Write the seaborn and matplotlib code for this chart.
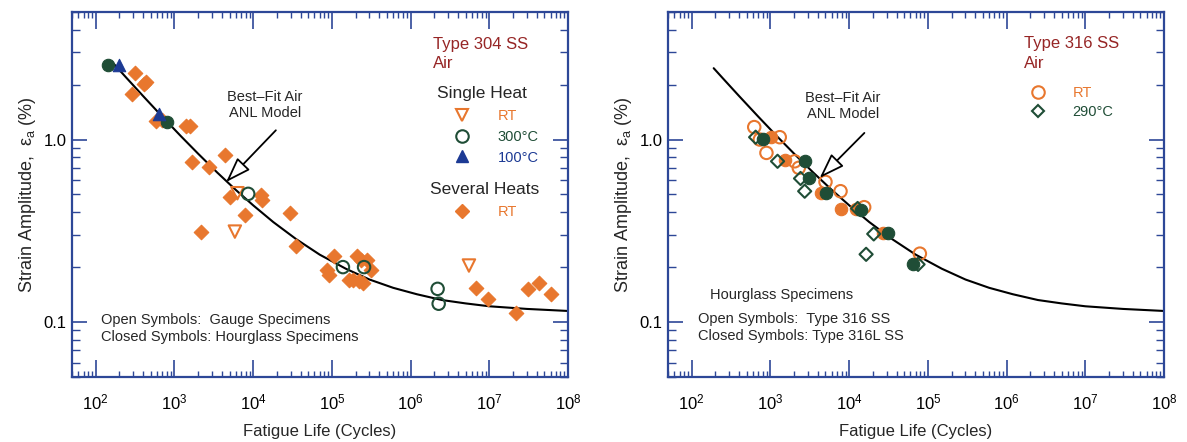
import numpy as np
import matplotlib
matplotlib.use("Agg")
import matplotlib.pyplot as plt
import seaborn as sns
from matplotlib.ticker import LogLocator, NullFormatter, FixedLocator
from matplotlib.lines import Line2D

# ---------------- data: left panel, Type 304 SS in air ----------------
ss304_several_rt_N = [311, 288, 405, 434, 581, 693, 1400, 1590, 1670, 2770, 4360, 2200,
                      5140, 7950, 12400, 13000, 34600, 29500, 107000, 87000, 91000, 211000,
                      233000, 283000, 310000, 167000, 183000, 222000, 245000, 6.8e6, 9.6e6,
                      2.2e7, 3.1e7, 4.3e7, 6.1e7]
ss304_several_rt_e = [2.31, 1.77, 2.02, 2.06, 1.27, 1.28, 1.18, 1.18, 0.755, 0.71, 0.82, 0.313,
                      0.486, 0.386, 0.497, 0.467, 0.26, 0.396, 0.231, 0.194, 0.182, 0.229,
                      0.22, 0.22, 0.194, 0.171, 0.171, 0.168, 0.164, 0.154, 0.133,
                      0.112, 0.152, 0.163, 0.142]
ss304_single_rt_N = [5850, 6300, 5.5e6]          # open triangles (gauge)
ss304_single_rt_e = [0.313, 0.508, 0.204]
ss304_300c_open_N = [8640, 138000, 256000, 2.2e6, 2.27e6]
ss304_300c_open_e = [0.504, 0.2, 0.2, 0.152, 0.126]
ss304_300c_closed_N = [142, 803]
ss304_300c_closed_e = [2.57, 1.25]
ss304_100c_N = [195, 630]
ss304_100c_e = [2.57, 1.38]

# best-fit ANL air curve
curve304_N = [160, 250, 400, 700, 1200, 2000, 3500, 6000, 10000, 18000, 35000, 70000,
              150000, 3e5, 6e5, 1.2e6, 2.5e6, 5e6, 1e7, 3e7, 1e8]
curve304_e = [2.671, 2.159, 1.730, 1.335, 1.046, 0.836, 0.659, 0.530, 0.436, 0.353, 0.285,
              0.234, 0.196, 0.171, 0.154, 0.142, 0.132, 0.1265, 0.122, 0.118, 0.115]

# ---------------- data: right panel, Type 316 SS in air ----------------
ss316_rt_open_N = [622, 733, 889, 1312, 2030, 2290, 5000, 7760, 15500, 79000]
ss316_rt_open_e = [1.17, 1.0, 0.845, 1.03, 0.76, 0.70, 0.586, 0.521, 0.426, 0.237]
ss316_rt_closed_N = [1030, 1520, 4340, 7940, 12300, 27000]
ss316_rt_closed_e = [1.03, 0.768, 0.51, 0.414, 0.414, 0.308]
ss316_290_closed_N = [807, 2720, 3055, 5130, 14100, 31000, 65000]
ss316_290_closed_e = [1.01, 0.76, 0.612, 0.51, 0.409, 0.308, 0.207]
ss316_290_open_N = [648, 1230, 2410, 2720, 12800, 20500, 16400, 75000]
ss316_290_open_e = [1.03, 0.76, 0.612, 0.521, 0.419, 0.304, 0.235, 0.207]

curve316_N = [190, 250, 400, 700, 1200, 2000, 3500, 6000, 10000, 18000, 35000, 70000,
              150000, 3e5, 6e5, 1.2e6, 2.5e6, 5e6, 1e7, 3e7, 1e8]
curve316_e = [2.46, 2.159, 1.730, 1.335, 1.046, 0.836, 0.659, 0.530, 0.436, 0.353, 0.285,
              0.234, 0.196, 0.171, 0.154, 0.142, 0.132, 0.1265, 0.122, 0.118, 0.115]

x_ticks = [1e2, 1e3, 1e4, 1e5, 1e6, 1e7, 1e8]
x_tick_labels = ["$10^{2}$", "$10^{3}$", "$10^{4}$", "$10^{5}$", "$10^{6}$", "$10^{7}$", "$10^{8}$"]
y_ticks = [0.1, 1.0]
y_tick_labels = ["0.1", "1.0"]

# ---------------- style ----------------
sns.set_theme(style="ticks")
plt.rcParams['font.family'] = ['Liberation Sans', 'DejaVu Sans']
plt.rcParams['mathtext.fontset'] = 'custom'
plt.rcParams['mathtext.rm'] = 'Liberation Sans'
plt.rcParams['mathtext.it'] = 'Liberation Sans:italic'
plt.rcParams['mathtext.default'] = 'regular'

BLUE_AX = "#2d4797"
ORANGE = "#e8772e"
GREEN = "#1f4d36"
BLUE = "#1c3a94"
DARKRED = "#962525"

fig = plt.figure(figsize=(11.87, 4.42), dpi=100)
ax1 = fig.add_axes([0.0607, 0.1471, 0.4179, 0.8258])
ax2 = fig.add_axes([0.5628, 0.1471, 0.4179, 0.8258])


def style_axes(ax):
    ax.set_xscale('log')
    ax.set_yscale('log')
    ax.set_xlim(50, 1e8)
    ax.set_ylim(0.05, 5)
    ax.set_xticks(x_ticks, labels=x_tick_labels)
    ax.set_yticks(y_ticks, labels=y_tick_labels)
    ax.yaxis.set_minor_locator(LogLocator(base=10, subs=np.arange(2, 10), numticks=12))
    ax.yaxis.set_minor_formatter(NullFormatter())
    ax.xaxis.set_minor_locator(LogLocator(base=10, subs=np.arange(2, 10), numticks=12))
    ax.xaxis.set_minor_formatter(NullFormatter())
    for s in ax.spines.values():
        s.set_visible(True)
        s.set_color(BLUE_AX)
        s.set_linewidth(1.6)
    ax.tick_params(which='both', direction='in', top=True, right=True, bottom=True,
                   left=True, color=BLUE_AX, labelcolor='black')
    ax.tick_params(axis='x', which='major', length=12, width=1.2, labelsize=12, pad=11)
    ax.tick_params(axis='x', which='minor', length=4.5, width=1.0)
    ax.tick_params(axis='y', which='major', length=11, width=1.2, labelsize=12, pad=4)
    ax.tick_params(axis='y', which='minor', length=5.5, width=1.0)
    ax.grid(False)
    ax.set_xlabel("Fatigue Life (Cycles)", fontsize=12)
    ax.set_ylabel("Strain Amplitude,  ε$_{a}$ (%)", fontsize=13)
    ax.xaxis.set_label_coords(0.5, -0.128)


def pts(ax, N, e, marker, color, filled, s, lw=1.5, z=3):
    if filled:
        sns.scatterplot(x=N, y=e, ax=ax, marker=marker, color=color, edgecolor=color,
                        s=s, linewidth=0.8, zorder=z, legend=False)
    else:
        sns.scatterplot(x=N, y=e, ax=ax, marker=marker, color=color, facecolor='none',
                        edgecolor=color, s=s, linewidth=lw, zorder=z, legend=False)


for ax in (ax1, ax2):
    style_axes(ax)

# ---------------- left panel ----------------
sns.lineplot(x=curve304_N, y=curve304_e, ax=ax1, color='black', linewidth=1.5,
             estimator=None, sort=False, legend=False, zorder=2)
pts(ax1, ss304_several_rt_N, ss304_several_rt_e, 'D', ORANGE, True, 55)
pts(ax1, ss304_single_rt_N, ss304_single_rt_e, 'v', ORANGE, False, 80)
pts(ax1, ss304_300c_open_N, ss304_300c_open_e, 'o', GREEN, False, 80)
pts(ax1, ss304_300c_closed_N, ss304_300c_closed_e, 'o', GREEN, True, 80)
pts(ax1, ss304_100c_N, ss304_100c_e, '^', BLUE, True, 80)

ax1.annotate("", xy=(4530, 0.585), xytext=(19400, 1.124),
             arrowprops=dict(arrowstyle='-|>,head_length=1.3,head_width=0.45',
                             fc='white', ec='black', lw=1.3, shrinkA=0, shrinkB=0))
ax1.text(0.389, 0.768, "Best–Fit Air", transform=ax1.transAxes, ha='center', va='center', fontsize=10.5)
ax1.text(0.389, 0.723, "ANL Model", transform=ax1.transAxes, ha='center', va='center', fontsize=10.5)
ax1.text(0.728, 0.9096, "Type 304 SS", transform=ax1.transAxes, ha='left', va='center',
         fontsize=12, color=DARKRED)
ax1.text(0.728, 0.860, "Air", transform=ax1.transAxes, ha='left', va='center',
         fontsize=12, color=DARKRED)
ax1.text(0.7353, 0.778, "Single Heat", transform=ax1.transAxes, ha='left', va='center', fontsize=12.5)
ax1.text(0.7218, 0.5123, "Several Heats", transform=ax1.transAxes, ha='left', va='center', fontsize=12.5)
ax1.text(0.0579, 0.156, "Open Symbols:  Gauge Specimens", transform=ax1.transAxes,
         ha='left', va='center', fontsize=10.5)
ax1.text(0.0579, 0.110, "Closed Symbols: Hourglass Specimens", transform=ax1.transAxes,
         ha='left', va='center', fontsize=10.5)

h_rt = Line2D([], [], ls='none', marker='v', ms=9, mfc='none', mec=ORANGE, mew=1.5)
h_300 = Line2D([], [], ls='none', marker='o', ms=9, mfc='none', mec=GREEN, mew=1.5)
h_100 = Line2D([], [], ls='none', marker='^', ms=9, mfc=BLUE, mec=BLUE)
leg1 = ax1.legend([h_rt, h_300, h_100], ["RT", "300°C", "100°C"], loc='upper left',
                  bbox_to_anchor=(0.759, 0.733), frameon=False, fontsize=10.5,
                  handlelength=1.9, handletextpad=1.45, labelspacing=0.45,
                  borderpad=0, borderaxespad=0)
for t, c in zip(leg1.get_texts(), [ORANGE, GREEN, BLUE]):
    t.set_color(c)
ax1.add_artist(leg1)
h_sev = Line2D([], [], ls='none', marker='D', ms=7, mfc=ORANGE, mec=ORANGE)
leg2 = ax1.legend([h_sev], ["RT"], loc='upper left', bbox_to_anchor=(0.759, 0.4716),
                  frameon=False, fontsize=10.5, handlelength=1.9, handletextpad=1.45,
                  borderpad=0, borderaxespad=0)
leg2.get_texts()[0].set_color(ORANGE)

# ---------------- right panel ----------------
sns.lineplot(x=curve316_N, y=curve316_e, ax=ax2, color='black', linewidth=1.5,
             estimator=None, sort=False, legend=False, zorder=2)
pts(ax2, ss316_rt_open_N, ss316_rt_open_e, 'o', ORANGE, False, 80)
pts(ax2, ss316_rt_closed_N, ss316_rt_closed_e, 'o', ORANGE, True, 80)
pts(ax2, ss316_290_open_N, ss316_290_open_e, 'D', GREEN, False, 45)
pts(ax2, ss316_290_closed_N, ss316_290_closed_e, 'o', GREEN, True, 80)

ax2.annotate("", xy=(4220, 0.616), xytext=(15600, 1.087),
             arrowprops=dict(arrowstyle='-|>,head_length=1.3,head_width=0.45',
                             fc='white', ec='black', lw=1.3, shrinkA=0, shrinkB=0))
ax2.text(0.353, 0.7635, "Best–Fit Air", transform=ax2.transAxes, ha='center', va='center', fontsize=10.5)
ax2.text(0.353, 0.7197, "ANL Model", transform=ax2.transAxes, ha='center', va='center', fontsize=10.5)
ax2.text(0.7177, 0.914, "Type 316 SS", transform=ax2.transAxes, ha='left', va='center',
         fontsize=12, color=DARKRED)
ax2.text(0.7177, 0.859, "Air", transform=ax2.transAxes, ha='left', va='center',
         fontsize=12, color=DARKRED)
ax2.text(0.0847, 0.2247, "Hourglass Specimens", transform=ax2.transAxes,
         ha='left', va='center', fontsize=10.5)
ax2.text(0.0599, 0.158, "Open Symbols:  Type 316 SS", transform=ax2.transAxes,
         ha='left', va='center', fontsize=10.5)
ax2.text(0.0599, 0.1123, "Closed Symbols: Type 316L SS", transform=ax2.transAxes,
         ha='left', va='center', fontsize=10.5)

h2_rt = Line2D([], [], ls='none', marker='o', ms=9, mfc='none', mec=ORANGE, mew=1.5)
h2_290 = Line2D([], [], ls='none', marker='D', ms=6.5, mfc='none', mec=GREEN, mew=1.5)
leg3 = ax2.legend([h2_rt, h2_290], ["RT", "290°C"], loc='upper left',
                  bbox_to_anchor=(0.7173, 0.797), frameon=False, fontsize=10.5,
                  handlelength=1.9, handletextpad=1.45, labelspacing=0.32,
                  borderpad=0, borderaxespad=0)
for t, c in zip(leg3.get_texts(), [ORANGE, GREEN]):
    t.set_color(c)

fig.savefig("out.png", dpi=100)
